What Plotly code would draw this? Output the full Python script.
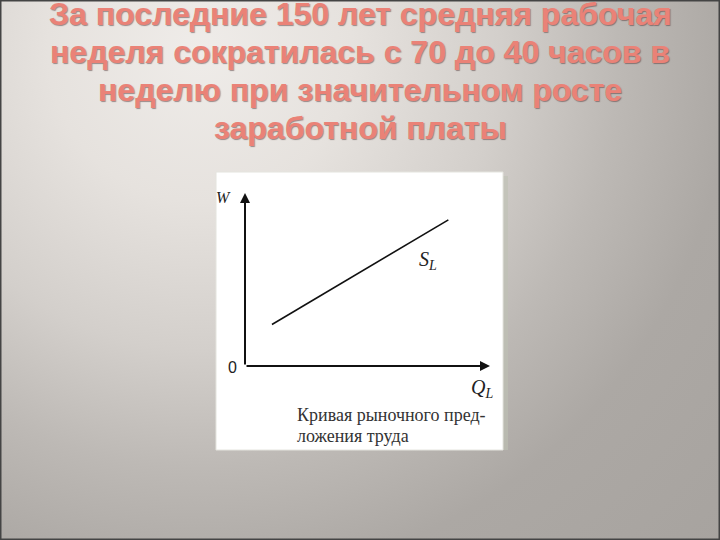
import plotly.graph_objects as go

# ---- data ----
quantity = [1.1, 8.3]          # Q_L (labour quantity)
wage = [2.4, 8.45]             # W (wage)
title_lines = [
    "За последние 150 лет средняя рабочая",
    "неделя сократилась с 70 до 40 часов в",
    "неделю при значительном росте",
    "заработной платы",
]
caption_lines = ["Кривая рыночного пред-", "ложения труда"]

W, H = 720, 540

fig = go.Figure()

# background (pixel axes x/y)
cx, cy, R = 200, 50, 760
fig.add_trace(go.Scatter(
    x=[cx - R, cx + R, cx + R, cx - R, cx - R],
    y=[cy - R, cy - R, cy + R, cy + R, cy - R],
    mode="lines", fill="toself", line=dict(width=0),
    fillgradient=dict(type="radial", colorscale=[
        [0.0, "#efece9"], [0.2, "#e6e2de"], [0.395, "#d3cfcb"],
        [0.55, "#bdb9b5"], [0.7, "#aca8a4"], [1.0, "#a6a29e"]]),
    hoverinfo="skip", showlegend=False, xaxis="x", yaxis="y"))

# white picture box
bx0, bx1, by0, by1 = 216, 503, 172, 450
fig.add_trace(go.Scatter(
    x=[bx1, bx1 + 5, bx1 + 5, bx1, bx1], y=[by0 + 4, by0 + 4, by1, by1, by0 + 4],
    mode="lines", fill="toself", fillcolor="rgba(190,194,180,0.6)", line=dict(width=0),
    hoverinfo="skip", showlegend=False, xaxis="x", yaxis="y"))
fig.add_trace(go.Scatter(
    x=[bx0, bx1, bx1, bx0, bx0], y=[by0, by0, by1, by1, by0],
    mode="lines", fill="toself", fillcolor="#ffffff", line=dict(width=1, color="#e4e4de"),
    hoverinfo="skip", showlegend=False, xaxis="x", yaxis="y"))

# supply curve (chart axes x2/y2)
fig.add_trace(go.Scatter(
    x=quantity, y=wage, mode="lines", line=dict(color="#111111", width=1.6),
    hoverinfo="skip", showlegend=False, xaxis="x2", yaxis="y2"))

ox0, ox1 = 245, 490
oy0, oy1 = 366, 193
fig.update_layout(
    width=W, height=H,
    margin=dict(l=0, r=0, t=0, b=0),
    paper_bgcolor="#d0ccc8", plot_bgcolor="rgba(0,0,0,0)",
    xaxis=dict(domain=[0, 1], range=[0, W], visible=False, fixedrange=True),
    yaxis=dict(domain=[0, 1], range=[H, 0], visible=False, fixedrange=True),
    xaxis2=dict(domain=[ox0 / W, ox1 / W], range=[0, 10], visible=False, anchor="y2"),
    yaxis2=dict(domain=[(H - oy0) / H, (H - oy1) / H], range=[0, 10], visible=False, anchor="x2"),
)

# axes arrows
for (tx, ty) in [(10, 0), (0, 10)]:
    fig.add_annotation(x=tx, y=ty, ax=0, ay=0, xref="x2", yref="y2", axref="x2", ayref="y2",
                       showarrow=True, arrowhead=2, arrowsize=1.0, arrowwidth=2,
                       arrowcolor="#111111", text="")

serif = "Liberation Serif, Times New Roman, serif"
labels = [
    (223, 197, "<i>W</i>", 16, serif),
    (232, 367, "0", 16, "Liberation Sans, Arial, sans-serif"),
    (428, 260, "<i>S<sub>L</sub></i>", 20, serif),
    (482, 388, "<i>Q<sub>L</sub></i>", 20, serif),
]
for x, y, t, s, f in labels:
    fig.add_annotation(x=x, y=y, xref="x", yref="y", text=t, showarrow=False,
                       font=dict(family=f, size=s, color="#222222"))

for line, yc in zip(caption_lines, [415, 436]):
    fig.add_annotation(x=295, y=yc, xref="x", yref="y", text=line,
                       showarrow=False, xanchor="left",
                       font=dict(family=serif, size=18, color="#333333"))

# title
baselines = [25, 63, 101, 139]
for line, b in zip(title_lines, baselines):
    fig.add_annotation(x=0.5, y=1 - (b - 11) / H, xref="paper", yref="paper", text=line,
                       showarrow=False, xanchor="center", yanchor="middle",
                       font=dict(family="Liberation Sans, Arial, sans-serif", size=32,
                                 color="#ea8277", weight="bold",
                                 shadow="1px 1px 1px rgba(90,60,60,0.55)"))

# slide frame
fig.add_shape(type="rect", xref="paper", yref="paper", x0=0, y0=0, x1=1, y1=1,
              line=dict(color="#444444", width=3), layer="above")

fig.write_html("out.html", config={"displayModeBar": False},
               post_script="document.body.style.margin='0';")
